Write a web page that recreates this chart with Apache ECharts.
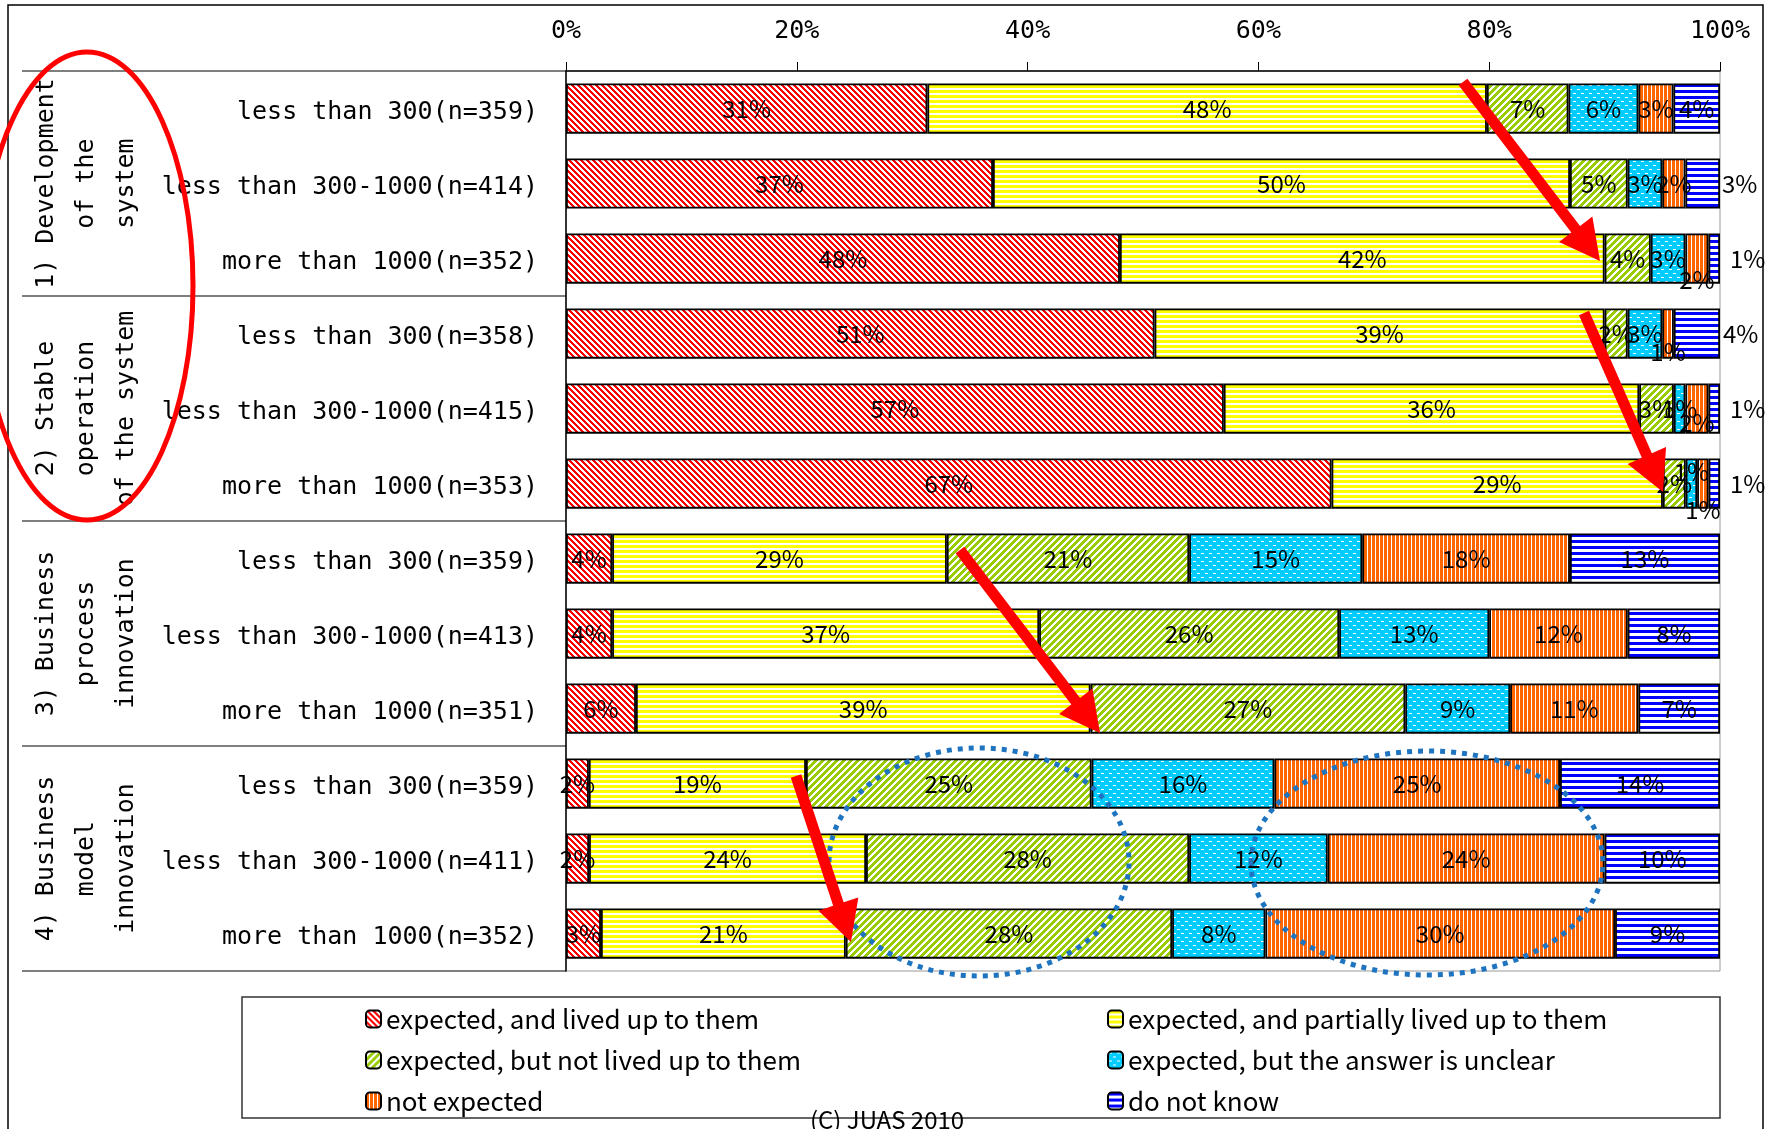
<!DOCTYPE html>
<html>
<head>
<meta charset="utf-8">
<script src="https://cdn.jsdelivr.net/npm/echarts@6/dist/echarts.min.js"></script>
<style>html,body{margin:0;padding:0;background:#fff}#c{width:1769px;height:1129px}</style>
</head>
<body>
<div id="c"></div>
<script>
// ---------- data ----------
const categories = [
  'less than 300(n=359)', 'less than 300-1000(n=414)', 'more than 1000(n=352)',
  'less than 300(n=358)', 'less than 300-1000(n=415)', 'more than 1000(n=353)',
  'less than 300(n=359)', 'less than 300-1000(n=413)', 'more than 1000(n=351)',
  'less than 300(n=359)', 'less than 300-1000(n=411)', 'more than 1000(n=352)'
];
const groups = [
  '1) Development\nof the\nsystem',
  '2) Stable\noperation\nof the system',
  '3) Business\nprocess\ninnovation',
  '4) Business\nmodel\ninnovation'
];
const seriesNames = [
  'expected, and lived up to them',
  'expected, and partially lived up to them',
  'expected, but not lived up to them',
  'expected, but the answer is unclear',
  'not expected',
  'do not know'
];
const livedUp        = [31, 37, 48, 51, 57, 67, 4, 4, 6, 2, 2, 3];
const partiallyLived = [48, 50, 42, 39, 36, 29, 29, 37, 39, 19, 24, 21];
const notLivedUp     = [7, 5, 4, 2, 3, 2, 21, 26, 27, 25, 28, 28];
const unclear        = [6, 3, 3, 3, 1, 1, 15, 13, 9, 16, 12, 8];
const notExpected    = [3, 2, 2, 1, 2, 1, 18, 12, 11, 25, 24, 30];
const doNotKnow      = [4, 3, 1, 4, 1, 1, 13, 8, 7, 14, 10, 9];
const xTicks = [0, 20, 40, 60, 80, 100];
const copyright = '(C) JUAS 2010';

const seriesValues = [livedUp, partiallyLived, notLivedUp, unclear, notExpected, doNotKnow];

// ---------- styles ----------
const FONT = '"Noto Sans CJK JP", "Noto Sans", sans-serif';
const MONO = '"DejaVu Sans Mono", monospace';
function tile(w, h, fn) {
  const c = document.createElement('canvas');
  c.width = w; c.height = h;
  const g = c.getContext('2d');
  g.fillStyle = '#fff'; g.fillRect(0, 0, w, h);
  fn(g);
  return { image: c, repeat: 'repeat' };
}
const patterns = [
  tile(6, 6, g => { g.fillStyle = '#FF0000'; for (let y = 0; y < 6; y++) for (let k = 0; k < 3; k++) g.fillRect((y + k) % 6, y, 1, 1); }),
  tile(4, 5, g => { g.fillStyle = '#FFFF00'; g.fillRect(0, 0, 4, 3); }),
  tile(7, 7, g => { g.fillStyle = '#99CC00'; for (let y = 0; y < 7; y++) for (let k = 0; k < 4; k++) g.fillRect((6 - y + k + 7) % 7, y, 1, 1); }),
  tile(8, 8, g => { g.fillStyle = '#00CCFF'; g.fillRect(0, 0, 8, 8); g.fillStyle = '#fff'; g.fillRect(1, 1, 3, 1); g.fillRect(5, 5, 3, 1); }),
  tile(4, 4, g => { g.fillStyle = '#FF6600'; g.fillRect(0, 0, 3, 4); }),
  tile(4, 6, g => { g.fillStyle = '#0000FF'; g.fillRect(0, 0, 4, 3); })
];
// manual label placements for tiny segments (series,row)
const labelTweaks = {
  '5,1': { position: 'right', distance: 2 },
  '4,2': { offset: [0, 21] },
  '5,2': { position: 'right', distance: 10 },
  '4,3': { offset: [0, 18] },
  '5,3': { position: 'right', distance: 3 },
  '4,4': { offset: [0, 14] },
  '5,4': { position: 'right', distance: 10 },
  '3,5': { offset: [0, -12] },
  '4,5': { offset: [0, 26] },
  '5,5': { position: 'right', distance: 10 }
};

const rowSums = categories.map((_, r) => seriesValues.reduce((s, arr) => s + arr[r], 0));

const series = seriesNames.map((name, si) => ({
  name, type: 'bar', stack: 'total', barCategoryGap: '33%',
  itemStyle: { color: patterns[si], borderColor: '#000', borderWidth: 1.8 },
  label: {
    show: true, position: 'inside', color: '#000', fontSize: 24, fontFamily: FONT,
    formatter: p => seriesValues[si][p.dataIndex] + '%'
  },
  emphasis: { disabled: true },
  data: seriesValues[si].map((v, r) => {
    const val = v / rowSums[r] * 100;
    const tw = labelTweaks[si + ',' + r];
    return tw ? { value: val, label: tw } : val;
  })
}));

const legendText = { color: '#000', fontSize: 26, fontFamily: FONT, lineHeight: 24 };
const chart = echarts.init(document.getElementById('c'));
chart.setOption({
  animation: false,
  backgroundColor: '#fff',
  grid: { left: 566, right: 49, top: 71, bottom: 158, show: true, borderColor: '#999', borderWidth: 1, backgroundColor: 'transparent' },
  xAxis: {
    type: 'value', position: 'top', min: xTicks[0], max: xTicks[xTicks.length - 1], interval: xTicks[1] - xTicks[0],
    axisLine: { show: true, lineStyle: { color: '#000', width: 1.5 } },
    axisTick: { show: true, length: 9, lineStyle: { color: '#000' } },
    splitLine: { show: false },
    axisLabel: { formatter: '{value}%', color: '#000', fontSize: 25, fontFamily: MONO, margin: 27 }
  },
  yAxis: {
    type: 'category', inverse: true, data: categories,
    axisLine: { show: true, lineStyle: { color: '#000', width: 1.5 } },
    axisTick: { show: false },
    axisLabel: { color: '#000', fontSize: 25, fontFamily: MONO, margin: 28, verticalAlign: 'top', lineHeight: 7 }
  },
  legend: [
    { data: [seriesNames[0], seriesNames[2], seriesNames[4]], orient: 'vertical', left: 360, top: 1001, itemGap: 15,
      itemWidth: 15, itemHeight: 17, selectedMode: false, textStyle: legendText },
    { data: [seriesNames[1], seriesNames[3], seriesNames[5]], orient: 'vertical', left: 1102, top: 1001, itemGap: 15,
      itemWidth: 15, itemHeight: 17, selectedMode: false, textStyle: legendText }
  ],
  series
});

// ---------- table lines, group labels and annotations ----------
const y0 = chart.convertToPixel({ yAxisIndex: 0 }, 0);
const y1 = chart.convertToPixel({ yAxisIndex: 0 }, 1);
const band = y1 - y0;
const axisX = chart.convertToPixel({ xAxisIndex: 0 }, 0);
const gfx = [];
gfx.push({ type: 'rect', silent: true, z: 0, shape: { x: 8, y: 5, width: 1755, height: 1300 }, style: { fill: 'none', stroke: '#000', lineWidth: 1.5 } });
for (let g = 0; g <= groups.length; g++) {
  const yb = y0 - band / 2 + g * 3 * band;
  gfx.push({ type: 'line', silent: true, z: 5, shape: { x1: 22, y1: yb, x2: axisX, y2: yb }, style: { stroke: '#000', lineWidth: 1.2 } });
}
groups.forEach((t, g) => {
  const yc = y0 + (g * 3 + 1) * band;
  gfx.push({ type: 'text', silent: true, z: 6, x: 86, y: yc, rotation: Math.PI / 2,
    style: { text: t, x: 0, y: 0, align: 'center', verticalAlign: 'middle', fontSize: 25, lineHeight: 40, fontFamily: MONO, fill: '#000' } });
});
// legend frame + copyright
gfx.push({ type: 'rect', silent: true, z: 1, shape: { x: 242, y: 997, width: 1478, height: 121 }, style: { fill: 'none', stroke: '#333', lineWidth: 1.5 } });
gfx.push({ type: 'text', silent: true, z: 6, x: 887, y: 1108, style: { text: copyright, align: 'center', verticalAlign: 'top', fontSize: 24, fontFamily: FONT, fill: '#000' } });
// annotations: ellipses
gfx.push({ type: 'ellipse', silent: true, z: 50, shape: { cx: 87, cy: 286, rx: 106, ry: 234 }, style: { fill: 'none', stroke: '#FF0000', lineWidth: 5 } });
gfx.push({ type: 'ellipse', silent: true, z: 50, shape: { cx: 979, cy: 862, rx: 150, ry: 114 }, style: { fill: 'none', stroke: '#1F74C0', lineWidth: 5, lineDash: [5, 6] } });
gfx.push({ type: 'ellipse', silent: true, z: 50, shape: { cx: 1427, cy: 863, rx: 176, ry: 112 }, style: { fill: 'none', stroke: '#1F74C0', lineWidth: 5, lineDash: [5, 6] } });
// annotations: arrows
function arrow(x1, y1_, x2, y2) {
  const dx = x2 - x1, dy = y2 - y1_, len = Math.hypot(dx, dy);
  const ux = dx / len, uy = dy / len, nx = -uy, ny = ux;
  const s = 5.5, L = 40, H = 21;
  const bx = x2 - ux * L, by = y2 - uy * L;
  return { type: 'polygon', silent: true, z: 60, shape: { points: [
    [x1 + nx * s, y1_ + ny * s], [bx + nx * s, by + ny * s], [bx + nx * H, by + ny * H], [x2, y2],
    [bx - nx * H, by - ny * H], [bx - nx * s, by - ny * s], [x1 - nx * s, y1_ - ny * s]
  ] }, style: { fill: '#FF0000' } };
}
gfx.push(arrow(1463, 82, 1600, 261));
gfx.push(arrow(1584, 313, 1663, 492));
gfx.push(arrow(960, 550, 1100, 733));
gfx.push(arrow(796, 776, 851, 942));
chart.setOption({ graphic: gfx });
</script>
</body>
</html>
